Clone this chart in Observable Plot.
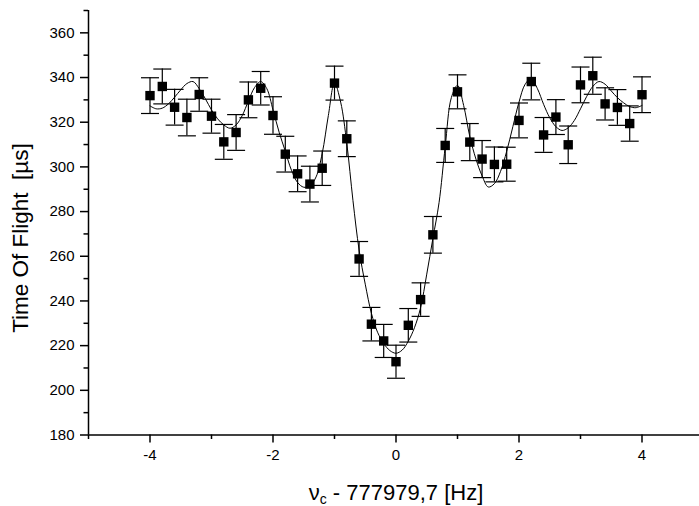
<!DOCTYPE html>
<html>
<head>
<meta charset="utf-8">
<script src="https://cdn.jsdelivr.net/npm/d3@7"></script>
<script src="https://cdn.jsdelivr.net/npm/@observablehq/plot@0.6"></script>
<style>
  html, body { margin: 0; padding: 0; background: #fff; }
  #chart { width: 699px; height: 506px; }
</style>
</head>
<body>
<div id="chart"></div>
<script>
// Measured points
const freq = [-4.0,-3.8,-3.6,-3.4,-3.2,-3.0,-2.8,-2.6,-2.4,-2.2,-2.0,-1.8,-1.6,-1.4,-1.2,-1.0,-0.8,-0.6,-0.4,-0.2,0.0,
              0.2,0.4,0.6,0.8,1.0,1.2,1.4,1.6,1.8,2.0,2.2,2.4,2.6,2.8,3.0,3.2,3.4,3.6,3.8,4.0];
const tof  = [331.9,336.0,326.7,322.1,332.4,322.7,311.2,315.4,330.0,335.2,323.0,305.7,296.9,292.3,299.4,337.5,312.6,258.8,229.6,222.1,212.8,
              229.1,240.6,269.6,309.6,333.6,311.1,303.5,301.1,301.2,320.8,338.2,314.3,322.3,309.9,336.7,340.8,328.2,326.6,319.4,332.3];
const err  = [8.0,7.8,8.0,8.2,7.5,7.6,7.8,8.0,8.0,7.5,8.4,8.0,8.0,8.0,7.7,7.6,8.0,7.8,7.5,7.4,7.4,
              7.5,7.5,8.2,7.6,7.6,8.3,8.3,7.8,7.6,7.8,8.2,7.8,7.8,8.4,8.0,8.3,7.2,8.0,7.9,8.0];

// Fit curve
const fitX = [-4.0,-3.9,-3.8,-3.7,-3.6,-3.5,-3.4,-3.3,-3.2,-3.1,-3.0,-2.9,-2.8,-2.7,-2.6,-2.5,-2.4,-2.3,-2.2,-2.1,
              -2.0,-1.9,-1.8,-1.7,-1.6,-1.5,-1.4,-1.3,-1.2,-1.1,-1.0,-0.9,-0.8,-0.7,-0.6,-0.5,-0.4,-0.3,-0.2,-0.1,
              0.0,0.1,0.2,0.3,0.4,0.5,0.6,0.7,0.8,0.9,1.0,1.1,1.2,1.3,1.4,1.5,1.6,1.7,1.8,1.9,
              2.0,2.1,2.2,2.3,2.4,2.5,2.6,2.7,2.8,2.9,3.0,3.1,3.2,3.3,3.4,3.5,3.6,3.7,3.8,3.9,4.0];
const fitY = [327.3,326.0,326.3,328.2,331.2,334.5,337.3,338.2,335.0,330.5,325.5,321.5,318.8,317.3,318.8,323.0,329.5,335.5,338.2,335.0,
              325.5,315.5,307.0,298.5,293.0,290.9,291.5,295.5,306.0,323.0,337.5,329.0,310.5,285.0,262.8,247.5,234.5,226.0,221.0,217.8,
              216.6,218.0,222.0,228.0,237.0,252.0,268.0,284.0,309.0,331.0,336.5,327.5,313.6,303.5,296.0,291.0,292.5,298.0,307.0,318.0,
              329.0,337.0,339.5,335.0,328.0,322.0,318.0,316.3,317.5,320.8,326.0,331.5,336.0,338.2,337.0,334.0,331.0,328.7,327.0,326.5,327.5];

// Tick values
const xTicks = [-4, -2, 0, 2, 4];
const xMinor = [-5, -3, -1, 1, 3, 5];
const yTicks = [180, 200, 220, 240, 260, 280, 300, 320, 340, 360];
const yMinor = [190, 210, 230, 250, 270, 290, 310, 330, 350, 370];

const points = freq.map((f, i) => ({x: f, y: tof[i], e: err[i]}));
const fit = fitX.map((f, i) => ({x: f, y: fitY[i]}));

const cap = { draw(ctx) { ctx.moveTo(-9, 0); ctx.lineTo(9, 0); } };
const FONT = "Liberation Sans, Arial, Helvetica, sans-serif";

const svg = Plot.plot({
  width: 699,
  height: 506,
  marginLeft: 88,
  marginRight: 0,
  marginTop: 10,
  marginBottom: 71.5,
  style: {fontFamily: FONT, fontSize: "15px", background: "#fff", color: "#000"},
  x: {domain: [-5, 5], range: [88, 703]},
  y: {domain: [180, 370], range: [434.5, 10]},
  marks: [
    Plot.ruleY([180], {stroke: "#000", strokeWidth: 1.5}),
    Plot.ruleX([-5], {stroke: "#000", strokeWidth: 1.5}),
    Plot.axisX({ticks: xTicks, tickSize: 8, tickPadding: 6, strokeWidth: 1.5, tickFormat: d => String(d), label: null, fontSize: 15, fill: "#000"}),
    Plot.axisX({ticks: xMinor, tickSize: 4.5, strokeWidth: 1.5, tickFormat: () => "", label: null}),
    Plot.axisY({ticks: yTicks, tickSize: 8, tickPadding: 6, strokeWidth: 1.5, tickFormat: d => String(d), label: null, fontSize: 15, fill: "#000"}),
    Plot.axisY({ticks: yMinor, tickSize: 4.5, strokeWidth: 1.5, tickFormat: () => "", label: null}),
    Plot.line(fit, {x: "x", y: "y", curve: "catmull-rom", stroke: "#000", strokeWidth: 1}),
    Plot.ruleX(points, {x: "x", y1: d => d.y - d.e, y2: d => d.y + d.e, stroke: "#000", strokeWidth: 1.2}),
    Plot.dot(points, {x: "x", y: d => d.y + d.e, symbol: cap, stroke: "#000", strokeWidth: 1.2, fill: "none"}),
    Plot.dot(points, {x: "x", y: d => d.y - d.e, symbol: cap, stroke: "#000", strokeWidth: 1.2, fill: "none"}),
    Plot.dot(points, {x: "x", y: "y", symbol: "square", r: 5.3, fill: "#000", stroke: "none"})
  ]
});

document.getElementById("chart").appendChild(svg);

const s = d3.select(svg);
// y axis title
s.append("text")
  .attr("transform", "translate(28,238) rotate(-90)")
  .attr("text-anchor", "middle")
  .attr("font-family", FONT)
  .attr("font-size", 22.5)
  .attr("fill", "#000")
  .text("Time Of Flight  [µs]");
// x axis title with subscript
const xt = s.append("text")
  .attr("x", 396)
  .attr("y", 500)
  .attr("text-anchor", "middle")
  .attr("font-family", FONT)
  .attr("font-size", 22)
  .attr("fill", "#000");
xt.append("tspan").text("ν");
xt.append("tspan").attr("font-size", 14).attr("dy", 4).text("c");
xt.append("tspan").attr("dy", -4).text(" - 777979,7 [Hz]");
</script>
</body>
</html>
